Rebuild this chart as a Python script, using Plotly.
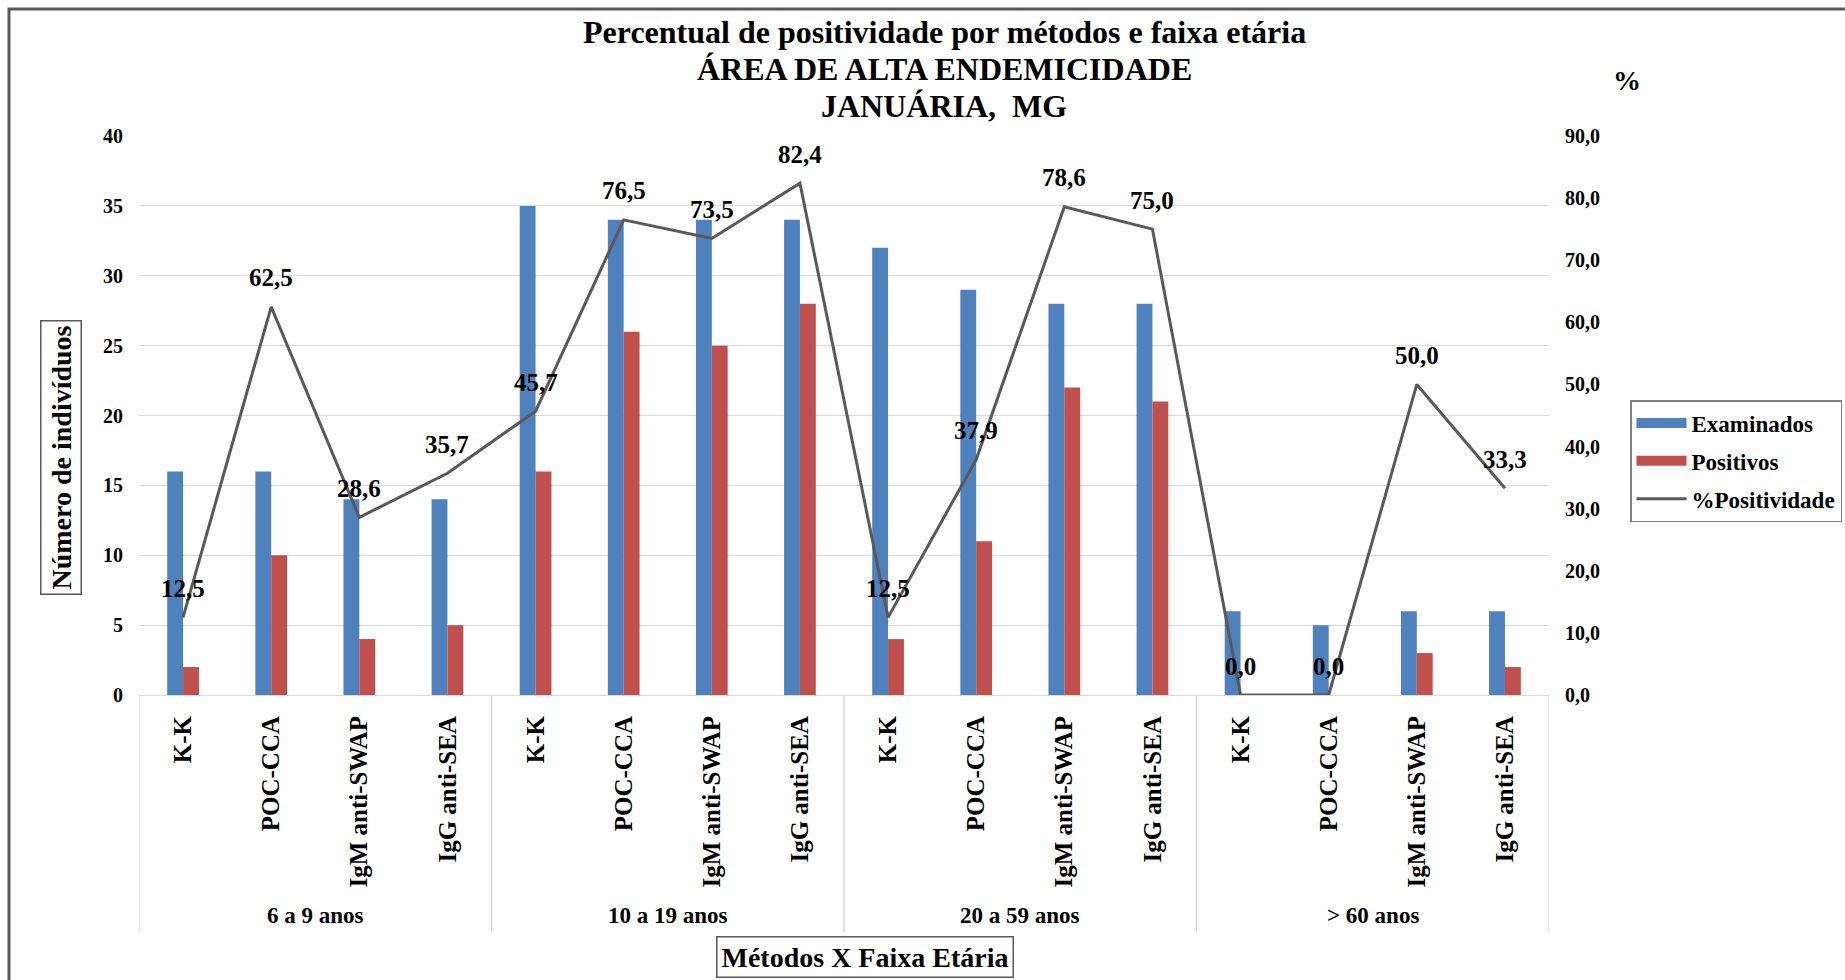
import plotly.graph_objects as go

# ---- data ----
age_groups = ["6 a 9 anos", "10 a 19 anos", "20 a 59 anos", "> 60 anos"]
methods = ["K-K", "POC-CCA", "IgM anti-SWAP", "IgG anti-SEA"]
examinados = [16, 16, 14, 14, 35, 34, 34, 34, 32, 29, 28, 28, 6, 5, 6, 6]
positivos = [2, 10, 4, 5, 16, 26, 25, 28, 4, 11, 22, 21, 0, 0, 3, 2]
positividade = [12.5, 62.5, 28.6, 35.7, 45.7, 76.5, 73.5, 82.4,
                12.5, 37.9, 78.6, 75.0, 0.0, 0.0, 50.0, 33.3]
title_lines = ["Percentual de positividade por métodos e faixa etária",
               "ÁREA DE ALTA ENDEMICIDADE",
               "JANUÁRIA,  MG"]

n_m = len(methods)
inner = [m for _ in age_groups for m in methods]
xpos = list(range(len(inner)))

W, H = 1845, 980
L, R, T, B = 139, 1549, 136, 695
FONT = "Liberation Serif, Times New Roman, serif"
BLUE, RED, GREY = "#4F81BD", "#C0504D", "#595959"


def px(v):
    return (v - L) / (R - L)


def py(v):
    return (B - v) / (B - T)


def bold(size):
    return dict(family=FONT, size=size, color="black", weight="bold")


fig = go.Figure()
fig.add_trace(go.Bar(x=xpos, y=examinados, name="Examinados", showlegend=False,
                     marker=dict(color=BLUE, line=dict(width=0))))
fig.add_trace(go.Bar(x=xpos, y=positivos, name="Positivos", showlegend=False,
                     marker=dict(color=RED, line=dict(width=0))))
fig.add_trace(go.Scatter(x=xpos, y=positividade, name="%Positividade", yaxis="y2",
                         mode="lines", line=dict(color=GREY, width=3), showlegend=False))
# legend entries (wide rectangles like the original)
fig.add_trace(go.Scatter(x=[None], y=[None], mode="lines", name="Examinados",
                         line=dict(color=BLUE, width=12), legendgroup="a"))
fig.add_trace(go.Scatter(x=[None], y=[None], mode="lines", name="Positivos",
                         line=dict(color=RED, width=12), legendgroup="b"))
fig.add_trace(go.Scatter(x=[None], y=[None], mode="lines", name="%Positividade",
                         line=dict(color=GREY, width=3), legendgroup="c"))

fig.update_layout(
    width=W, height=H,
    margin=dict(l=L, r=W - R, t=T, b=H - B, autoexpand=False),
    paper_bgcolor="white", plot_bgcolor="white",
    separators=",.",
    barmode="group", bargap=0.64, bargroupgap=0,
    font=dict(family=FONT, color="black"),
    xaxis=dict(range=[-0.5, len(inner) - 0.5], tickvals=xpos, ticktext=inner,
               tickangle=-90, showgrid=False, zeroline=False,
               showline=True, linecolor="#D9D9D9", linewidth=1,
               ticks="", ticklabelstandoff=10, tickfont=bold(25)),
    yaxis=dict(range=[0, 40], dtick=5, showgrid=True, gridcolor="#D9D9D9", gridwidth=1,
               zeroline=False, showline=False, ticks="", ticklabelstandoff=15,
               tickfont=bold(20)),
    yaxis2=dict(range=[0, 90], dtick=10, overlaying="y", side="right", showgrid=False,
                zeroline=False, showline=False, ticks="", tickformat=".1f",
                ticklabelstandoff=15, tickfont=bold(20)),
    legend=dict(x=px(1630), y=py(400), xanchor="left", yanchor="top",
                bordercolor="#7F7F7F", borderwidth=1.5, bgcolor="white",
                font=bold(23), tracegroupgap=5, itemwidth=50),
    showlegend=True,
)

# title lines
for line, yc in zip(title_lines, [32, 69, 106]):
    fig.add_annotation(text=line, x=px(944), xref="paper", y=py(yc), yref="paper",
                       xanchor="center", yanchor="middle", showarrow=False, font=bold(32))

# data labels of the % line
for xi, v in zip(xpos, positividade):
    fig.add_annotation(x=xi, y=v, xref="x", yref="y2", text=f"{v:.1f}".replace(".", ","),
                       showarrow=False, yshift=29, xanchor="center", yanchor="middle",
                       font=bold(25))

# group labels and dividers
for g, name in enumerate(age_groups):
    fig.add_annotation(x=g * n_m + (n_m - 1) / 2, y=py(915), xref="x", yref="paper",
                       text=name, showarrow=False, xanchor="center", yanchor="middle",
                       font=bold(23))
for k in range(len(age_groups) + 1):
    fig.add_shape(type="line", xref="x", yref="paper", x0=k * n_m - 0.5, x1=k * n_m - 0.5,
                  y0=py(932), y1=0, line=dict(color="#D9D9D9", width=1.5))

fig.add_annotation(text="Número de indivíduos", textangle=-90, x=px(61), y=py(458),
                   xref="paper", yref="paper", showarrow=False,
                   xanchor="center", yanchor="middle",
                   bordercolor=GREY, borderwidth=1.5, borderpad=4, font=bold(28))
fig.add_annotation(text="Métodos X Faixa Etária", x=px(865), y=py(957),
                   xref="paper", yref="paper", showarrow=False,
                   xanchor="center", yanchor="middle",
                   bordercolor=GREY, borderwidth=1.5, borderpad=4, font=bold(28))
fig.add_annotation(text="%", x=px(1627), y=py(81), xref="paper", yref="paper",
                   xanchor="center", yanchor="middle", showarrow=False, font=bold(28))

fig.add_shape(type="rect", xref="paper", yref="paper",
              x0=px(9), x1=px(1900), y0=py(1000), y1=py(9),
              line=dict(color=GREY, width=3), fillcolor="rgba(0,0,0,0)", layer="below")

fig.write_html("out.html")
